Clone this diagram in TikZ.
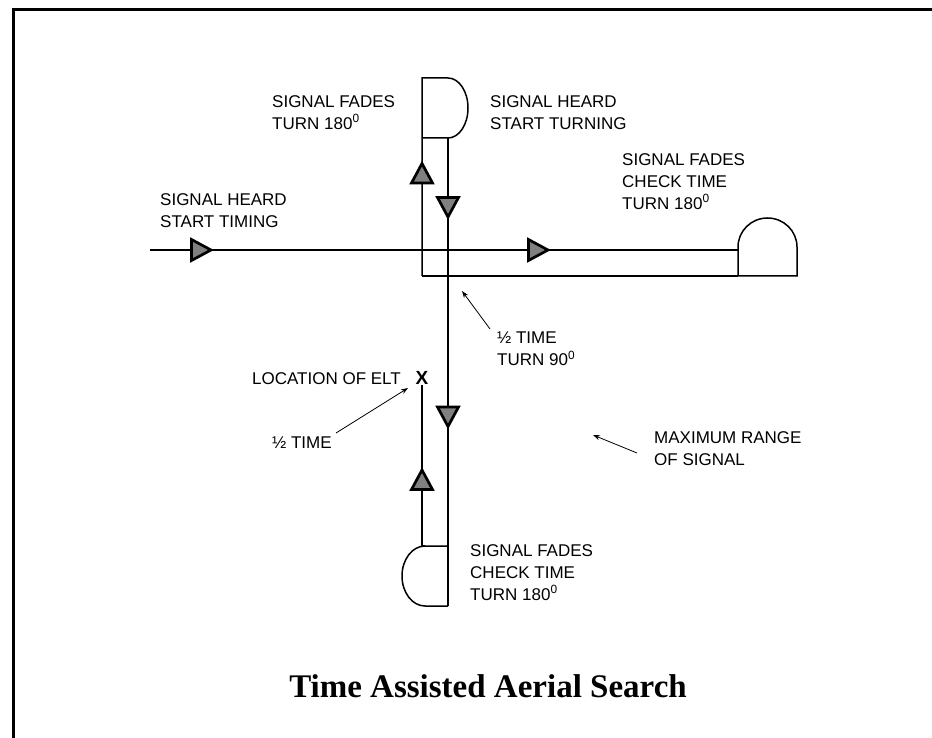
\documentclass[tikz,border=0pt]{standalone}
\usepackage{fontspec}
\setmainfont{Liberation Sans}
\newfontfamily\titlefont{Liberation Serif}
\usetikzlibrary{arrows.meta}
\definecolor{trigray}{RGB}{128,128,128}
\tikzset{
  flight/.style={line width=1.5pt, black},
  frame/.style={line width=3pt, black},
  note/.style={-{Stealth[length=7pt,width=5pt]}, line width=0.8pt},
  lbl/.style={anchor=north west, inner sep=0pt, align=left, font=\fontsize{17}{22}\selectfont},
  tri/.pic={\draw[line width=2.7pt, fill=trigray, line join=miter] (10,0) -- (-9.5,10.5) -- (-9.5,-10.5) -- cycle;}
}
\begin{document}
\begin{tikzpicture}[x=1pt,y=-1pt]
\useasboundingbox (0,0) rectangle (932,738);
% frame (runs off the page on the right and bottom)
\draw[frame] (13.5,738) -- (13.5,9.5) -- (932,9.5);

% key points of the flight path
\coordinate (start) at (150,250);
\coordinate (rdl) at (738,250);
\coordinate (rbl) at (738,276);
\coordinate (rbr) at (797,276);
\coordinate (turnw) at (422,276);
\coordinate (tbl) at (422,138);
\coordinate (ttl) at (422,78);
\coordinate (ttr) at (448,78);
\coordinate (tbr) at (448,138);
\coordinate (btr) at (448,606);
\coordinate (bbl) at (425,606);
\coordinate (btl) at (425,546);
\coordinate (btj) at (448,546);
\coordinate (blj) at (422,546);
\coordinate (elt) at (422,385);

% incoming leg
\draw[flight] (start) -- (rdl);
% right turn dome
\draw[flight] (rbl) -- (738,247) arc[start angle=180, end angle=360, x radius=29.5, y radius=29] -- (rbr) -- cycle;
% return leg to the west
\draw[flight] (rbl) -- (turnw);
% north leg and top dome
\draw[flight] (turnw) -- (ttl) -- (ttr) arc[start angle=-90, end angle=90, x radius=20, y radius=30] -- (tbl);
% south leg
\draw[flight] (tbr) -- (btr);
% bottom dome
\draw[flight] (btr) -- (bbl) arc[start angle=90, end angle=270, x radius=23, y radius=30] -- (btj);
\draw[flight] (blj) -- (btl);
% north leg to the ELT
\draw[flight] (blj) -- (elt);

% direction triangles
\pic at (201,250) {tri};
\pic at (538,250) {tri};
\pic[rotate=90] at (422,173.5) {tri};
\pic[rotate=-90] at (448,207) {tri};
\pic[rotate=-90] at (448,416.5) {tri};
\pic[rotate=90] at (422,480) {tri};

% labels
\node[lbl] (fadesTop) at (272,95) {SIGNAL FADES\\TURN 180\textsuperscript{0}};
\node[lbl] (heardTop) at (490,95) {SIGNAL HEARD\\START TURNING};
\node[lbl] (heardLeft) at (160,193) {SIGNAL HEARD\\START TIMING};
\node[lbl] (fadesRight) at (622,153) {SIGNAL FADES\\CHECK TIME\\TURN 180\textsuperscript{0}};
\node[lbl] (fadesBottom) at (470,544) {SIGNAL FADES\\CHECK TIME\\TURN 180\textsuperscript{0}};
\node[lbl] (halfTurn) at (497,332) {½ TIME\\TURN 90\textsuperscript{0}};
\node[lbl] (location) at (252,372) {LOCATION OF ELT};
\node[inner sep=0pt, font=\bfseries\fontsize{19}{24}\selectfont] (xmark) at (422,378) {X};
\node[lbl] (halfTime) at (272,437) {½ TIME};
\node[lbl] (maxRange) at (654,431) {MAXIMUM RANGE\\OF SIGNAL};

% annotation arrows
\coordinate (n1s) at (490,329);
\coordinate (n1e) at (462,291);
\coordinate (n2s) at (637,453);
\coordinate (n2e) at (593,435);
\coordinate (n3s) at (336,433);
\coordinate (n3e) at (408,388);
\draw[note] (n1s) -- (n1e);
\draw[note] (n2s) -- (n2e);
\draw[note] (n3s) -- (n3e);

% title
\node[anchor=base, inner sep=0pt, font=\titlefont\bfseries\fontsize{33}{40}\selectfont] (title) at (488,697) {Time Assisted Aerial Search};
\end{tikzpicture}
\end{document}
